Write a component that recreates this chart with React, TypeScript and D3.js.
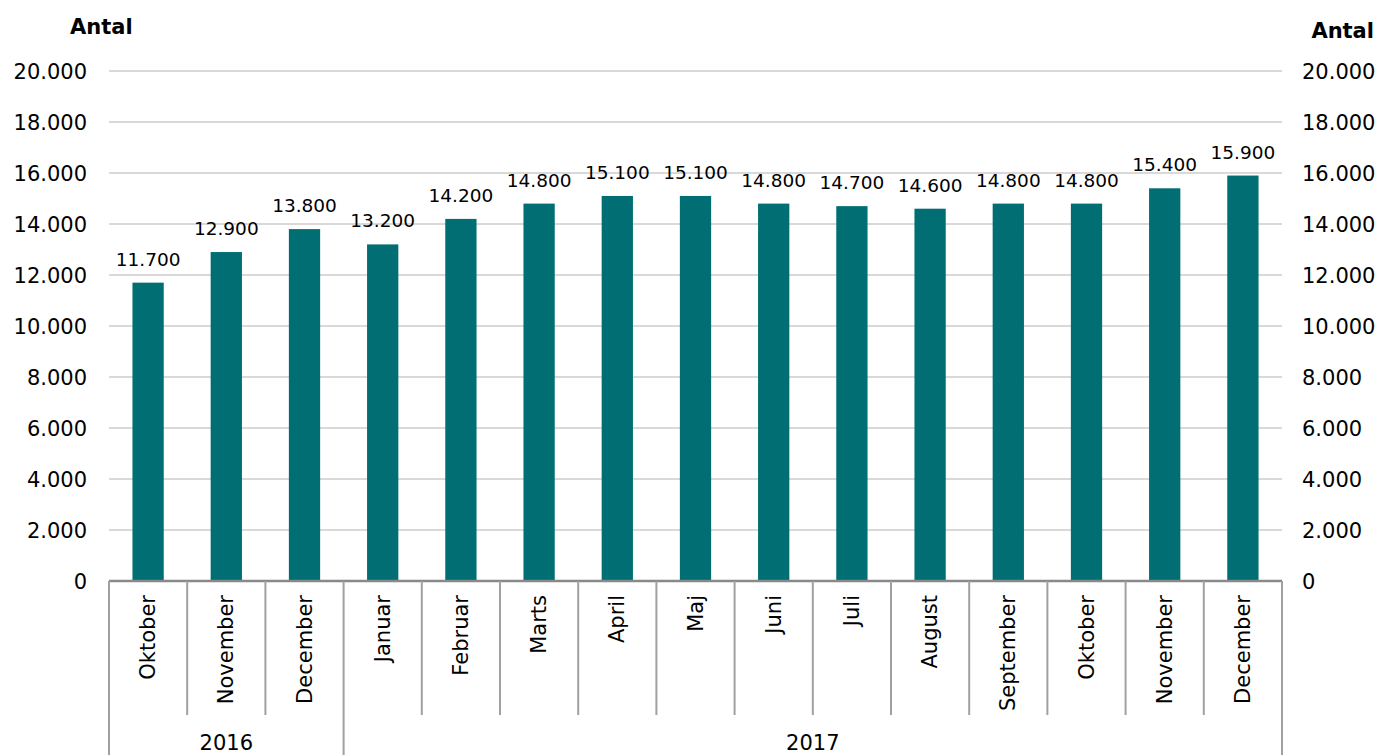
import { useMemo } from "react";
import * as d3 from "d3";

const WIDTH = 1381;
const HEIGHT = 755;
const PLOT = { left: 109, right: 1282, top: 71, bottom: 581 };
const FONT = "Verdana, 'DejaVu Sans', sans-serif";

const months = [
  "Oktober", "November", "December", "Januar", "Februar", "Marts", "April",
  "Maj", "Juni", "Juli", "August", "September", "Oktober", "November", "December",
];
const years = ["2016", "2016", "2016", "2017", "2017", "2017", "2017", "2017", "2017", "2017", "2017", "2017", "2017", "2017", "2017"];
const values = [11700, 12900, 13800, 13200, 14200, 14800, 15100, 15100, 14800, 14700, 14600, 14800, 14800, 15400, 15900];
const yTicks = [0, 2000, 4000, 6000, 8000, 10000, 12000, 14000, 16000, 18000, 20000];

const fmt = (v: number) => d3.format(",")(v).replace(/,/g, ".");

export default function App() {
  const keys = months.map((_, i) => String(i));

  const x = useMemo(
    () => d3.scaleBand().domain(keys).range([PLOT.left, PLOT.right]).paddingInner(0.6).paddingOuter(0.3),
    []
  );
  const xCat = useMemo(() => d3.scaleBand().domain(keys).range([PLOT.left, PLOT.right]), []);
  const y = useMemo(() => d3.scaleLinear().domain([0, 20000]).range([PLOT.bottom, PLOT.top]), []);

  const groups = useMemo(() => {
    const out: { label: string; start: number; end: number }[] = [];
    years.forEach((yr, i) => {
      const last = out[out.length - 1];
      if (last && last.label === yr) last.end = i;
      else out.push({ label: yr, start: i, end: i });
    });
    return out;
  }, []);

  const step = xCat.step();
  const boundaries = new Set<number>([0, ...groups.map((g) => g.end + 1)]);

  return (
    <svg width={WIDTH} height={HEIGHT} style={{ position: "absolute", left: 0, top: 0, background: "#fff" }} fontFamily={FONT}>
      {/* gridlines */}
      {yTicks.filter((t) => t > 0).map((t) => (
        <line key={t} x1={PLOT.left} x2={PLOT.right} y1={y(t)} y2={y(t)} stroke="#d9d9d9" strokeWidth={2} />
      ))}

      {/* left and right tick labels */}
      {yTicks.map((t) => (
        <g key={"l" + t}>
          <text x={87} y={y(t)} dy="0.36em" textAnchor="end" fontSize={21} fill="#000">{fmt(t)}</text>
          <text x={1302} y={y(t)} dy="0.4em" textAnchor="start" fontSize={21} fill="#000">{fmt(t)}</text>
        </g>
      ))}

      <text x={70} y={34} fontSize={21} fontWeight="bold">Antal</text>
      <text x={1374} y={38} fontSize={21} fontWeight="bold" textAnchor="end">Antal</text>

      {/* bars and labels */}
      {values.map((v, i) => (
        <g key={i}>
          <rect x={x(String(i))} width={x.bandwidth()} y={y(v)} height={y(0) - y(v)} fill="#006e73" />
          <text x={x(String(i))! + x.bandwidth() / 2} y={y(v) - 17} textAnchor="middle" fontSize={18.5} fill="#000">{fmt(v)}</text>
        </g>
      ))}

      {/* category axis */}
      <line x1={PLOT.left} x2={PLOT.right} y1={PLOT.bottom} y2={PLOT.bottom} stroke="#898989" strokeWidth={2.5} />
      {d3.range(months.length + 1).map((i) => {
        const xp = PLOT.left + i * step;
        const isBoundary = boundaries.has(i);
        return (
          <line key={"t" + i} x1={xp} x2={xp} y1={PLOT.bottom} y2={isBoundary ? HEIGHT : 715} stroke="#a0a0a0" strokeWidth={2} />
        );
      })}
      {months.map((m, i) => {
        const cx = xCat(String(i))! + step / 2;
        return (
          <text key={"m" + i} transform={`translate(${cx},595) rotate(-90)`} textAnchor="end" dominantBaseline="central" fontSize={21} fill="#000">{m}</text>
        );
      })}
      {groups.map((g) => {
        const cx = (PLOT.left + g.start * step + PLOT.left + (g.end + 1) * step) / 2;
        return (
          <text key={g.label} x={cx} y={750} textAnchor="middle" fontSize={21} fill="#000">{g.label}</text>
        );
      })}
    </svg>
  );
}
